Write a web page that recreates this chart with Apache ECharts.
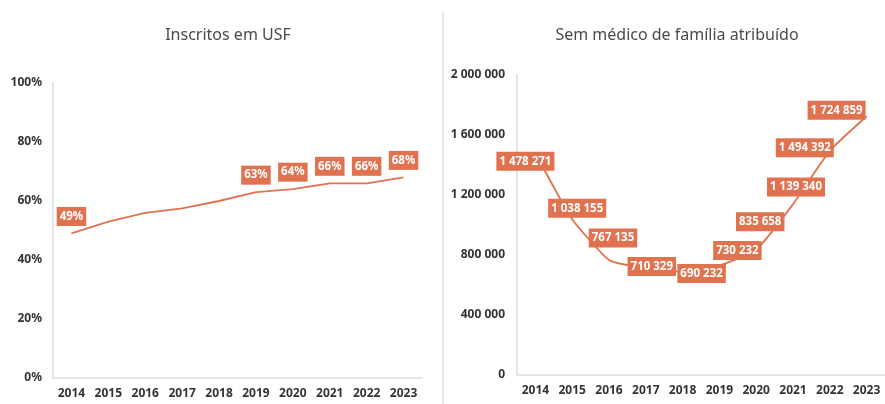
<!DOCTYPE html>
<html>
<head>
<meta charset="utf-8">
<script src="https://cdn.jsdelivr.net/npm/echarts@6/dist/echarts.min.js"></script>
<style>html,body{margin:0;padding:0;background:#fff}#c{width:885px;height:404px}</style>
</head>
<body>
<div id="c"></div>
<script>
var years = ['2014','2015','2016','2017','2018','2019','2020','2021','2022','2023'];
var usfPct = [49, 53, 56, 57.5, 60, 63, 64, 66, 66, 68];
var usfLabeled = [true, false, false, false, false, true, true, true, true, true];
var noDoctor = [1478271, 1038155, 767135, 710329, 690232, 730232, 835658, 1139340, 1494392, 1724859];
var leftTicks = [0, 20, 40, 60, 80, 100];
var rightTicks = [0, 400000, 800000, 1200000, 1600000, 2000000];

var ORANGE = '#E0724F';
var FONT = '"Noto Sans", sans-serif';
function fmt(v){ return String(v).replace(/\B(?=(\d{3})+(?!\d))/g, ' '); }

var rightOffsets = [[-10,8],[5,-11],[4,-22],[6,-2],[19,2],[18,-15],[4,-28],[3,-17],[-25,-3],[-30,-6]];

var labelBase = {
  show: true, position: 'inside', color: '#fff', fontWeight: 'bold', fontSize: 11.5,
  fontFamily: FONT, backgroundColor: ORANGE, padding: [4, 3, 3, 3]
};

var leftData = usfPct.map(function(v, i){
  return { value: v, label: Object.assign({}, labelBase, { show: usfLabeled[i], offset: [0, -17], formatter: function(p){ return Math.round(p.value) + '%'; } }) };
});
var rightData = noDoctor.map(function(v, i){
  return { value: v, label: Object.assign({}, labelBase, { offset: rightOffsets[i], formatter: function(p){ return fmt(p.value); } }) };
});

var axisLineStyle = { show: true, lineStyle: { color: '#e4e4e4', width: 2 } };
var axisLabelX = { color: '#333', fontSize: 12, fontWeight: 'bold', fontFamily: FONT, margin: 10 };
var axisLabelY = { color: '#333', fontSize: 12, fontWeight: 'bold', fontFamily: FONT, margin: 11 };

var chart = echarts.init(document.getElementById('c'));
chart.setOption({
  animation: false,
  title: [
    { text: 'Inscritos em USF', left: 223, top: 22, textAlign: 'center', textStyle: { fontSize: 16, fontWeight: 'normal', color: '#4a4a4a', fontFamily: FONT } },
    { text: 'Sem médico de família atribuído', left: 672, top: 22, textAlign: 'center', textStyle: { fontSize: 16, fontWeight: 'normal', color: '#4a4a4a', fontFamily: FONT } }
  ],
  graphic: [{ type: 'line', shape: { x1: 443, y1: 12, x2: 443, y2: 404 }, style: { stroke: '#e8e8e8', lineWidth: 2 } }],
  grid: [
    { left: 53, right: 463, top: 83, bottom: 26 },
    { left: 517, right: -4, top: 75, bottom: 29 }
  ],
  xAxis: [
    { type: 'category', gridIndex: 0, data: years, boundaryGap: true, axisLine: axisLineStyle, axisTick: { show: false }, axisLabel: axisLabelX },
    { type: 'category', gridIndex: 1, data: years, boundaryGap: true, axisLine: axisLineStyle, axisTick: { show: false }, axisLabel: axisLabelX }
  ],
  yAxis: [
    { type: 'value', gridIndex: 0, min: leftTicks[0], max: leftTicks[leftTicks.length-1], interval: leftTicks[1]-leftTicks[0], axisLine: axisLineStyle, axisTick: { show: false }, splitLine: { show: false }, axisLabel: Object.assign({}, axisLabelY, { formatter: '{value}%' }) },
    { type: 'value', gridIndex: 1, min: rightTicks[0], max: rightTicks[rightTicks.length-1], interval: rightTicks[1]-rightTicks[0], axisLine: axisLineStyle, axisTick: { show: false }, splitLine: { show: false }, axisLabel: Object.assign({}, axisLabelY, { margin: 12, formatter: function(v){ return fmt(v); } }) }
  ],
  series: [
    { type: 'line', xAxisIndex: 0, yAxisIndex: 0, data: leftData, symbol: 'circle', symbolSize: 1, itemStyle: { color: 'transparent' }, lineStyle: { color: ORANGE, width: 1.8 }, z: 3 },
    { type: 'line', xAxisIndex: 1, yAxisIndex: 1, data: rightData, smooth: 0.15, symbol: 'circle', symbolSize: 1, itemStyle: { color: 'transparent' }, lineStyle: { color: ORANGE, width: 1.8 }, z: 3 }
  ]
});
</script>
</body>
</html>
